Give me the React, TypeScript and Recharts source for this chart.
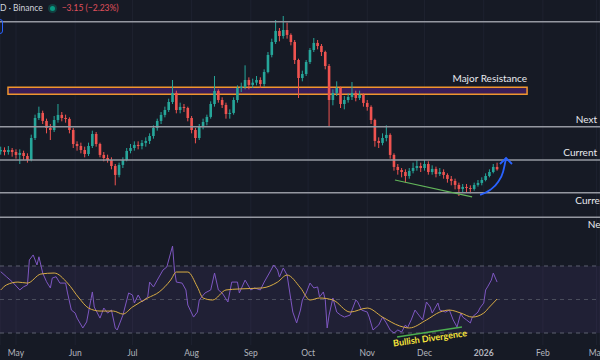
import React from 'react';
import {
  ComposedChart,
  Bar,
  Line,
  Scatter,
  XAxis,
  YAxis,
  CartesianGrid,
  ReferenceLine,
  ReferenceArea,
  ReferenceDot,
} from 'recharts';

// days are counted from 1 May 2025; one candle every 2 days
const firstCandleDay = -8;
const candleStep = 2;
const firstOpen = 151.5;

const closes = [
  152.5, 151, 152.5, 151, 148.8, 150.3, 148, 145, 161.5, 176.5,
  180.3, 174.3, 169, 167.5, 175, 178.8, 176.5, 175.8, 167.5, 157,
  155.5, 152.5, 149.5, 155.5, 164.5, 157, 148.8, 146.5, 145, 140.5,
  133.8, 141.3, 145, 151.8, 154, 156.3, 155.5, 157.8, 159.3, 163,
  169, 174.3, 178.8, 182.5, 188.5, 195.3, 182.5, 184.8, 184, 176.5,
  167.5, 161.5, 170.5, 173.5, 177.3, 187, 196.8, 190, 186.3, 179.5,
  180.3, 190, 199, 199.8, 205, 201.3, 203, 205, 202, 211,
  223.8, 233.5, 241.8, 238, 242.5, 238.8, 233.5, 220, 206.5, 209.5,
  218.5, 227.5, 232.8, 230.5, 226, 215.5, 190, 195.3, 199, 187,
  190, 192.3, 195.3, 191.5, 193.8, 187.8, 184.8, 175, 159.3, 157.8,
  161.5, 163.8, 148.8, 139.8, 137.5, 136, 133, 136.8, 139, 140.5,
  139, 142, 136, 138.3, 134.5, 136, 133.8, 130.8, 129.3, 126.3,
  123.3, 124.8, 124, 123.3, 126.3, 127.8, 130, 133, 136, 139.8,
  138,
];

const highs = [
  155, 154.5, 155.5, 154, 153, 153, 152, 150, 164, 179,
  185, 182, 176, 172, 178, 187, 181, 179, 177, 169,
  159, 158, 155, 158, 167, 166, 158, 151, 149, 147,
  142, 143, 147, 154, 157, 159, 159, 160, 162, 165,
  171, 176, 181, 185, 191, 205, 197, 188, 187, 185,
  178, 169, 172, 176, 179, 189, 208, 198, 192, 188,
  183, 192, 201, 203, 216, 207, 206, 208, 207, 213,
  226, 236, 250, 244, 253, 248, 240, 235, 221, 212,
  220, 229, 236.5, 235, 232, 227, 217, 198, 204, 200,
  193, 195, 203.5, 197, 197, 195, 190, 186, 176, 162,
  165, 171, 165, 150, 142, 139, 138, 139, 143, 145,
  143, 145, 144, 141, 140, 139, 138, 135, 133, 131,
  128, 127, 127, 126, 128, 130, 132, 135, 138, 142,
  143,
];

const lows = [
  149, 148.5, 149, 147.5, 146, 142, 145, 143, 144, 160,
  175, 172, 165, 160, 166, 173, 174, 173, 165, 154,
  152, 150, 147, 148, 154, 155, 147, 144, 143, 138,
  126, 132, 139, 144, 150, 152, 153, 153, 155, 157,
  161, 167, 172, 177, 181, 187, 180, 180, 181, 174,
  165, 157.5, 160, 168, 171, 176, 185, 188, 184, 176,
  176, 179, 188, 196, 198, 198, 199, 201, 199, 200,
  210, 222, 232, 234, 236, 236, 231, 217, 191.5, 204,
  208, 217, 226, 228, 223, 213, 170, 186, 193, 184,
  183, 188, 190, 189, 190, 185, 182, 172, 155, 154,
  156, 159, 146, 137, 134, 132, 128, 131, 135, 137,
  136, 137, 134, 134, 132, 133, 131, 128, 126, 123,
  118, 121, 121, 120, 122, 125, 126, 129, 132, 135,
  137,
];

const rsiDays = [
  -8, -5, -2, 2, 4, 6, 7, 9, 11, 12, 14, 16, 18, 19, 21, 23, 26, 27, 29, 31,
  32, 35, 37, 40, 41, 44, 46, 48, 50, 52, 53, 56, 59, 61, 62, 64, 66, 69, 70, 72,
  74, 77, 79, 81, 82, 83, 84, 87, 89, 90, 93, 95, 96, 99, 102, 104, 106, 108, 111, 113,
  116, 117, 120, 123, 125, 128, 130, 133, 135, 137, 138, 140, 142, 144, 145, 147, 149, 150, 152, 154,
  156, 158, 159, 161, 162, 163, 164, 166, 168, 170, 172, 175, 178, 179, 181, 184, 185, 187, 190, 192,
  194, 196, 198, 200, 202, 204, 205, 207, 209, 211, 213, 215, 217, 218, 221, 222, 225, 227, 229, 231,
  233, 234, 236, 238, 239, 242, 243, 245, 246, 247, 249, 250, 252,
];
const rsiValues = [
  66.6, 63.6, 60.6, 55.7, 57.6, 58.7, 73.6, 76.6, 70.6, 75.5, 65.8, 60.6, 56.9, 62.8, 63.6, 59.8, 59.8, 53.9, 43.7, 41.9,
  38.9, 33, 36.6, 54.5, 45.5, 38.9, 44.9, 41.9, 43.7, 33, 31.8, 40.7, 53.9, 52.7, 47.9, 52.7, 48.5, 51.5, 60.4, 57.5,
  61.6, 67.6, 69.4, 77.8, 81.9, 67.6, 60.4, 59.8, 55.7, 46.7, 39.5, 42.5, 49.7, 53.9, 55.7, 65.8, 55.7, 53.9, 48.5, 60.4,
  60.4, 53.9, 61.6, 55.7, 56.9, 55.7, 60.4, 66.4, 70.6, 67.6, 63.4, 68.8, 64.6, 49.7, 42.5, 36, 43.7, 49.7, 53.9, 59.8,
  56.9, 57.5, 51.5, 54.5, 49.7, 33, 40.7, 50.9, 42.5, 40.7, 39.5, 40.7, 49.7, 48.5, 43.7, 42.5, 39.5, 31.8, 34.8, 39.5,
  36, 31.8, 30, 31.8, 30.6, 34.8, 33, 37.8, 43.7, 40.7, 37.8, 48.5, 45.5, 41.9, 47.9, 43.7, 42.5, 43.7, 37.8, 33.6,
  41.9, 39.5, 37.8, 36, 39.5, 42.5, 44.9, 47.9, 55.7, 57.5, 61.6, 65.8, 60.4,
];
const maDays = [
  -8, -5, 1, 6, 13, 20, 27, 33, 38, 44, 51, 56, 61, 69, 75, 81, 84, 90, 95, 98, 103, 110,
  117, 129, 137, 142, 149, 154, 159, 166, 175, 184, 192, 201, 206, 215, 222, 227, 233, 239, 245, 248, 252,
];
const maValues = [
  55.7, 58.7, 60.4, 59.8, 65.2, 65.8, 59.8, 50.9, 44.9, 43.1, 43.1, 41.3, 45.5, 50.9, 54.5, 61.6, 66.4, 66.4, 57.5, 50.9, 49.7, 55.7,
  56.3, 56.9, 60.4, 64.6, 57, 49.7, 50.9, 49.7, 42.5, 44.9, 39.5, 34.2, 33, 37.8, 42.5, 43.7, 41.9, 39.5, 41.9, 45.5, 50.3,
];

const monthTicks = [0, 31, 61, 92, 123, 153, 184, 214, 245, 276, 304];
const monthLabels = ['May', 'Jun', 'Jul', 'Aug', 'Sep', 'Oct', 'Nov', 'Dec', '2026', 'Feb', 'Mar'];

// horizontal levels drawn on the price pane
const topLevel = 248.7;
const nextResistance = 170;
const currentResistance = 145;
const currentSupport = 120.5;
const nextSupport = 102;
const majorResistance = [194.3, 199.5];
const majorResistanceDays = [-4.2, 267.7];

// annotations (day, price)
const priceDivergence = [
  { x: 198.5, y: 130 },
  { x: 238.9, y: 117.3 },
];
const rsiDivergence = [
  { x: 199.6, y: 27.6 },
  { x: 233.6, y: 33.6 },
];
const arrowCurve = [
  { day: 243.1, price: 118.8 },
  { day: 248.3, price: 122.5 },
  { day: 252.5, price: 128.5 },
  { day: 255.1, price: 136 },
  { day: 256.7, price: 146.5 },
];
const arrowHead = [
  { day: 253.5, price: 142 },
  { day: 256.7, price: 146.5 },
  { day: 259.8, price: 142 },
];

const xDomain = [-8.38, 305.9];
const priceDomain = [85, 265];
const rsiDomain = [22.84, 85.52];

const BG = '#161a25';
const UP = '#26a69a';
const DOWN = '#ef5350';
const GRID = '#1e2230';
const LEVEL = '#9598a1';
const FONT = 'Lato, "Noto Sans", sans-serif';

const candles = closes.map((close, i) => {
  const open = i === 0 ? firstOpen : closes[i - 1];
  return {
    day: firstCandleDay + candleStep * i,
    open,
    close,
    high: highs[i],
    low: lows[i],
    range: [lows[i], highs[i]],
  };
});

const rsiByDay = new Map(rsiDays.map((d, i) => [d, rsiValues[i]]));
const maByDay = new Map(maDays.map((d, i) => [d, maValues[i]]));
const rsiTable = Array.from(new Set([...rsiDays, ...maDays]))
  .sort((a, b) => a - b)
  .map((day) => ({
    day,
    rsi: rsiByDay.has(day) ? rsiByDay.get(day) : null,
    ma: maByDay.has(day) ? maByDay.get(day) : null,
  }));

const Candle = (props: any) => {
  const { x, y, width, height, payload } = props;
  if (!payload || x == null || y == null) return <g />;
  const { open, close, high, low } = payload;
  const top = height < 0 ? y + height : y;
  const h = Math.abs(height);
  const ratio = h / (high - low || 1);
  const cx = x + width / 2;
  const bodyTop = top + (high - Math.max(open, close)) * ratio;
  const bodyH = Math.max(Math.abs(open - close) * ratio, 1);
  const color = close >= open ? UP : DOWN;
  return (
    <g>
      <line x1={cx} x2={cx} y1={top} y2={top + h} stroke={color} strokeWidth={1} />
      <rect x={cx - 1.3} y={bodyTop} width={2.6} height={bodyH} fill={color} />
    </g>
  );
};

const LevelTag = ({ viewBox, text, above, dx }: any) => {
  if (!viewBox) return null;
  const { x, y, width } = viewBox;
  return (
    <text
      x={x + width + dx}
      y={above ? y - 4 : y + 11}
      textAnchor="end"
      fill="#e8eaef"
      fontSize={10}
      fontFamily={FONT}
    >
      {text}
    </text>
  );
};

const AreaTag = ({ viewBox }: any) => {
  if (!viewBox) return null;
  const { x, y, width } = viewBox;
  return (
    <text x={x + width} y={y - 5} textAnchor="end" fill="#e8eaef" fontSize={10} fontFamily={FONT}>
      Major Resistance
    </text>
  );
};

const DivergenceText = (props: any) => {
  const { cx, cy } = props;
  return (
    <text
      x={cx}
      y={cy}
      transform={`rotate(-8 ${cx} ${cy})`}
      textAnchor="middle"
      dominantBaseline="middle"
      fill="#f7e43a"
      fontSize={9}
      fontWeight={700}
      fontFamily={FONT}
    >
      Bullish Divergence
    </text>
  );
};

const MonthTick = (props: any) => {
  const { x, y, payload } = props;
  const idx = monthTicks.indexOf(payload.value);
  const label = monthLabels[idx];
  return (
    <text
      x={x}
      y={y + 7}
      textAnchor="middle"
      fill="#b2b5be"
      fontSize={8.5}
      fontWeight={label === '2026' ? 700 : 400}
      fontFamily={FONT}
    >
      {label}
    </text>
  );
};

const App: React.FC = () => {
  return (
    <div
      style={{
        position: 'absolute',
        left: 0,
        top: 0,
        width: 600,
        height: 360,
        background: BG,
        overflow: 'hidden',
        fontFamily: FONT,
      }}
    >
      <ComposedChart width={600} height={240} data={candles} margin={{ top: 0, right: 0, bottom: 0, left: 0 }}>
        <CartesianGrid stroke={GRID} horizontal={false} />
        <XAxis dataKey="day" type="number" domain={xDomain} ticks={monthTicks} hide allowDataOverflow />
        <YAxis type="number" domain={priceDomain} hide allowDataOverflow />
        <ReferenceLine y={topLevel} stroke={LEVEL} strokeWidth={1.5} />
        <ReferenceLine
          y={nextResistance}
          stroke={LEVEL}
          strokeWidth={1.5}
          label={<LevelTag text="Next" above dx={-3} />}
        />
        <ReferenceLine
          y={currentResistance}
          stroke={LEVEL}
          strokeWidth={1.5}
          label={<LevelTag text="Current" above dx={-3} />}
        />
        <ReferenceLine
          y={currentSupport}
          stroke={LEVEL}
          strokeWidth={1.5}
          label={<LevelTag text="Current" dx={9} />}
        />
        <ReferenceLine
          y={nextSupport}
          stroke={LEVEL}
          strokeWidth={1.5}
          label={<LevelTag text="Next" dx={9} />}
        />
        <ReferenceArea
          x1={majorResistanceDays[0]}
          x2={majorResistanceDays[1]}
          y1={majorResistance[0]}
          y2={majorResistance[1]}
          fill="#3a1d58"
          fillOpacity={1}
          stroke="#f0952e"
          strokeWidth={1.5}
          label={<AreaTag />}
        />
        <Bar dataKey="range" barSize={3} shape={<Candle />} isAnimationActive={false} />
        <ReferenceLine segment={priceDivergence} stroke="#62b55a" strokeWidth={1.2} />
        <Scatter
          data={arrowCurve}
          dataKey="price"
          line={{ stroke: '#2962ff', strokeWidth: 1.8 }}
          lineJointType="monotoneX"
          shape={() => <g />}
          isAnimationActive={false}
        />
        <Scatter
          data={arrowHead}
          dataKey="price"
          line={{ stroke: '#2962ff', strokeWidth: 1.8 }}
          shape={() => <g />}
          isAnimationActive={false}
        />
      </ComposedChart>

      <ComposedChart width={600} height={120} data={rsiTable} margin={{ top: 0, right: 0, bottom: 0, left: 0 }}>
        <CartesianGrid stroke={GRID} horizontal={false} />
        <XAxis
          dataKey="day"
          type="number"
          domain={xDomain}
          ticks={monthTicks}
          interval={0}
          height={15}
          axisLine={false}
          tickLine={false}
          tickSize={0}
          tickMargin={4}
          tick={<MonthTick />}
          allowDataOverflow
        />
        <YAxis type="number" domain={rsiDomain} hide allowDataOverflow />
        <ReferenceArea y1={30} y2={70} fill="#7e57c2" fillOpacity={0.1} />
        <ReferenceLine y={70} stroke="#5d6070" strokeDasharray="4 4" />
        <ReferenceLine y={50} stroke="#4a4d5c" strokeDasharray="4 4" />
        <ReferenceLine y={30} stroke="#5d6070" strokeDasharray="4 4" />
        <Line
          dataKey="rsi"
          stroke="#7e57c2"
          strokeWidth={1}
          dot={false}
          connectNulls
          isAnimationActive={false}
        />
        <Line
          dataKey="ma"
          type="monotone"
          stroke="#d8ac44"
          strokeWidth={1}
          dot={false}
          connectNulls
          isAnimationActive={false}
        />
        <ReferenceLine segment={rsiDivergence} stroke="#4caf50" strokeWidth={1.5} />
        <ReferenceDot x={216.9} y={26.4} r={0} shape={<DivergenceText />} />
      </ComposedChart>

      <div
        style={{
          position: 'absolute',
          left: 0,
          top: 3,
          display: 'flex',
          alignItems: 'center',
          whiteSpace: 'nowrap',
          fontSize: 8.5,
          color: '#d1d4dc',
        }}
      >
        <span>D · Binance</span>
        <span
          style={{
            width: 5,
            height: 5,
            borderRadius: '50%',
            background: '#089981',
            marginLeft: 7,
            boxShadow: '0 0 0 2px rgba(8,153,129,0.3)',
          }}
        />
        <span style={{ marginLeft: 7, color: '#e0505c' }}>−3.15 (−2.23%)</span>
      </div>
      <div
        style={{
          position: 'absolute',
          left: -7,
          top: 19,
          width: 8,
          height: 13,
          border: '1px solid #2962ff',
          borderRadius: 3,
        }}
      />
    </div>
  );
};

export default App;
